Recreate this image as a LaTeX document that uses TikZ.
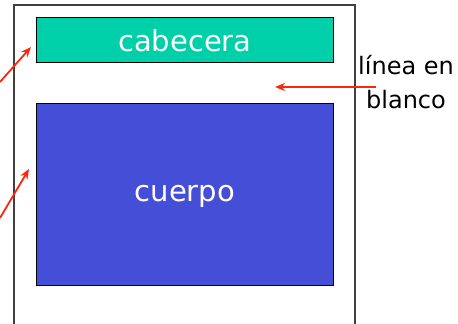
\documentclass[tikz,border=0pt]{standalone}
\usepackage{fontspec}
\setmainfont{DejaVu Sans}
\usetikzlibrary{arrows.meta}
\definecolor{cabcolor}{RGB}{0,208,170}
\definecolor{cuercolor}{RGB}{68,78,214}
\definecolor{flecha}{RGB}{250,40,10}
\tikzset{
  caja/.style={draw=black, line width=0.8pt, inner sep=0pt, anchor=north west},
  flechita/.style={draw=flecha, line width=1.8pt, -{Stealth[length=10pt,width=8pt]}},
}
\begin{document}
\begin{tikzpicture}[x=1pt, y=-1pt]
\useasboundingbox (0,0) rectangle (458,324);
% mensaje
\draw[line width=1.2pt, black!75] (14,324) -- (14,5) -- (355,5) -- (355,324);
% cabecera y cuerpo
\node[caja, fill=cabcolor, minimum width=297pt, minimum height=45pt] (cab) at (36,17) {};
\node[caja, fill=cuercolor, minimum width=297pt, minimum height=182pt] (cuer) at (36,103) {};
\node[white, font=\fontsize{29}{32}\selectfont] (tcab) at ([yshift=-1pt]cab.center) {cabecera};
\node[white, font=\fontsize{29}{32}\selectfont] (tcuer) at ([yshift=-2pt]cuer.center) {cuerpo};
% texto
\node[align=center, font=\fontsize{24}{34}\selectfont] (linea) at (406,82) {línea en\\blanco};
% flechas
\coordinate (a1) at (0,82);
\coordinate (a2) at (0,218);
\coordinate (a3) at (376,87);
\coordinate (h1) at (31,47);
\coordinate (h2) at (29,169);
\coordinate (h3) at (275,87);
\draw[flechita] (a1) -- (h1);
\draw[flechita] (a2) -- (h2);
\draw[flechita] (a3) -- (h3);
\end{tikzpicture}
\end{document}
